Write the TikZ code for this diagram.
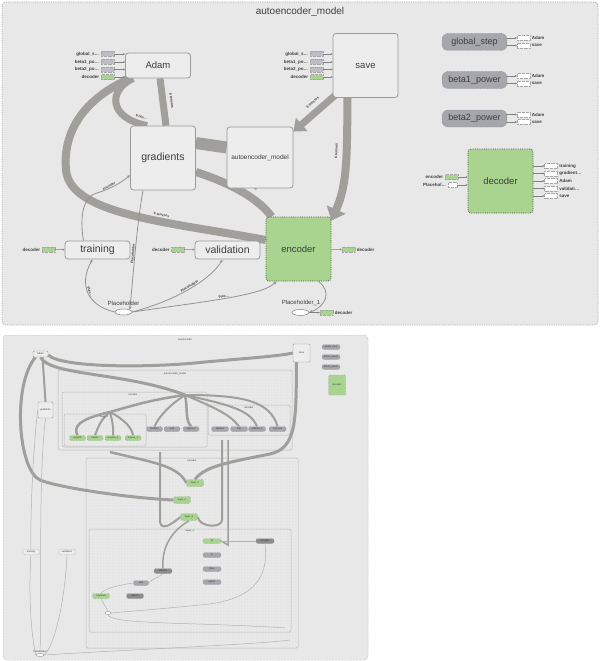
\documentclass[tikz,border=0pt]{standalone}
\usepackage{fontspec}
\setmainfont{Liberation Sans}
\usetikzlibrary{arrows.meta,shapes.geometric,positioning,backgrounds,patterns}

\definecolor{panelbg}{HTML}{E8E8E8}
\definecolor{panelline}{HTML}{A6A6A6}
\definecolor{opbg}{HTML}{EDEDED}
\definecolor{opline}{HTML}{9A9A9A}
\definecolor{txt}{HTML}{3E3E3E}
\definecolor{encgreen}{HTML}{A8D48F}
\definecolor{pillgray}{HTML}{A6A6AD}
\definecolor{darkpill}{HTML}{8C8C8C}
\definecolor{inboxc}{HTML}{BDBDC6}
\definecolor{flowc}{HTML}{A19F9C}
\definecolor{innerbg}{HTML}{E6E6E6}

\tikzstyle{panelframe}=[draw=panelline,densely dotted,fill=panelbg,rounded corners=4pt,line width=0.8pt]
\tikzstyle{boxframe}=[draw=panelline!80,fill=innerbg,rounded corners=1.5pt,line width=0.5pt,postaction={pattern=dots,pattern color=white}]
\tikzstyle{opgroup}=[draw=opline,fill=opbg,rounded corners=3pt,line width=0.8pt,text=txt,minimum width=65pt,minimum height=64pt,inner sep=0pt,font=\fontsize{9.5}{10}\selectfont]
\tikzstyle{opbar}=[opgroup,minimum height=18pt]
\tikzstyle{encgroup}=[opgroup,fill=encgreen,draw=black!65,densely dotted]
\tikzstyle{pillnode}=[draw=black!60,densely dotted,fill=pillgray,rounded corners=6pt,minimum width=65pt,minimum height=17pt,inner sep=0pt,text=txt,font=\fontsize{9}{9}\selectfont]
\tikzstyle{instub}=[draw=gray!70,densely dotted,fill=inboxc,minimum width=13pt,minimum height=5pt,inner sep=0pt,line width=0.3pt]
\tikzstyle{edgetag}=[font=\fontsize{4.5}{5}\selectfont\bfseries,text=txt,inner sep=0.5pt]
\tikzstyle{flowband}=[draw=flowc,line width=8pt]
\tikzstyle{thinwire}=[draw=gray!85,line width=0.8pt]
\tikzstyle{stubwire}=[draw=gray,line width=0.4pt,-{Stealth[length=2pt,width=2pt]}]
\tikzstyle{wtip}=[-{Stealth[length=3.5pt,width=3pt]}]
\tikzstyle{elab}=[font=\fontsize{3.5}{4}\selectfont\bfseries,text=txt,sloped,inner sep=0.5pt]
\tikzstyle{phnode}=[ellipse,draw=gray,fill=white,minimum width=17pt,minimum height=6pt,inner sep=0pt,line width=0.5pt]
% small versions for the expanded view
\tikzstyle{minigroup}=[draw=opline,fill=opbg,rounded corners=1pt,line width=0.4pt,text=txt,inner sep=0pt,font=\fontsize{2.5}{3}\selectfont]
\tikzstyle{minipill}=[minigroup,fill=pillgray,draw=black!50,densely dotted,rounded corners=2pt,minimum height=5pt]
\tikzstyle{minigreen}=[minipill,fill=encgreen]
\tikzstyle{minidark}=[minipill,fill=darkpill]
\tikzstyle{minitag}=[font=\fontsize{2.5}{3}\selectfont,text=txt,inner sep=0.3pt]
\tikzstyle{miniband}=[draw=flowc,line width=3pt]
\tikzstyle{miniwire}=[draw=gray!60,line width=0.5pt]

\begin{document}
\begin{tikzpicture}[x=1pt,y=-1pt]
    \useasboundingbox (0,0) rectangle (600,661);

    % ---- collapsed graph ----
    \node[text=txt,font=\fontsize{10}{10}\selectfont] (title) at (300,12) {autoencoder\_model};

    \node[opbar,minimum height=25pt] (adam) at (158,65.5) {Adam};
    \node[opgroup] (save) at (365.5,65.5) {save};
    \node[opgroup,font=\fontsize{10.5}{11}\selectfont] (gradients) at (163,158) {gradients};
    \node[opgroup,minimum width=66pt,minimum height=61pt,font=\fontsize{6.5}{7}\selectfont] (autoenc) at (260,157.5) {autoencoder\_model};
    \node[opbar,font=\fontsize{10.5}{11}\selectfont] (training) at (97.5,250) {training};
    \node[opbar,font=\fontsize{10.5}{11}\selectfont] (validation) at (227.5,250) {validation};
    \node[encgroup] (encoder) at (298.5,249) {encoder};
    \node[encgroup] (decoder) at (500.5,181) {decoder};

    \node[pillnode] (gstep) at (474.5,42) {global\_step};
    \node[pillnode] (beta1) at (474.5,80) {beta1\_power};
    \node[pillnode] (beta2) at (474.5,118.5) {beta2\_power};

    \node[phnode] (ph) at (123.5,312) {};
    \node[edgetag,font=\fontsize{6}{6}\selectfont] (phlab) at (123.5,303) {Placeholder};
    \node[phnode] (ph1) at (300.5,312.5) {};
    \node[edgetag,font=\fontsize{6}{6}\selectfont] (ph1lab) at (301,303) {Placeholder\_1};

    % inputs of Adam and save
    \foreach \lab/\yy/\col [count=\i] in {global\_s\ldots/54/inboxc,beta1\_po\ldots/62/inboxc,beta2\_po\ldots/69.5/inboxc,decoder/77/encgreen}{
        \node[instub,fill=\col] (ad\i) at (107.5,\yy) {};
        \node[edgetag,left=1pt of ad\i] (adl\i) {\lab};
        \draw[stubwire] (ad\i) -- (adam.west |- ad\i);
        \node[instub,fill=\col] (sv\i) at (316.5,\yy) {};
        \node[edgetag,left=1pt of sv\i] (svl\i) {\lab};
        \draw[stubwire] (sv\i) -- (save.west |- sv\i);
    }

    % outputs of the variables
    \foreach \var/\ya/\yb in {gstep/38/45.5,beta1/76/83.5,beta2/114.5/122}{
        \node[instub,fill=white] (\var a) at (523.5,\ya) {};
        \node[edgetag,right=1pt of \var a] (\var al) {Adam};
        \node[instub,fill=white] (\var b) at (523.5,\yb) {};
        \node[edgetag,right=1pt of \var b] (\var bl) {save};
        \draw[stubwire] (\var.east |- \var a) -- (\var a);
        \draw[stubwire] (\var.east |- \var b) -- (\var b);
    }

    % decoder inputs and outputs
    \node[instub,fill=encgreen] (din1) at (451.5,177) {};
    \node[edgetag,left=1pt of din1] (dinl1) {encoder};
    \node[instub,fill=white,minimum width=9pt] (din2) at (452.5,185) {};
    \node[edgetag,left=1pt of din2] (dinl2) {Placehol\ldots};
    \draw[stubwire] (din1) -- (decoder.west |- din1);
    \draw[stubwire] (din2) -- (decoder.west |- din2);
    \foreach \lab/\yy [count=\i] in {training/166,gradient\ldots/173.5,Adam/181,validati\ldots/188.5,save/196}{
        \node[instub,fill=white] (dout\i) at (551,\yy) {};
        \node[edgetag,right=1pt of dout\i] (doutl\i) {\lab};
        \draw[stubwire] (decoder.east |- dout\i) -- (dout\i);
    }

    % decoder inputs of training / validation, outputs of encoder / Placeholder_1
    \node[instub,fill=encgreen] (trin) at (48.5,249.5) {};
    \node[edgetag,left=1pt of trin] (trinl) {decoder};
    \draw[stubwire] (trin) -- (training);
    \node[instub,fill=encgreen] (vain) at (178,249.5) {};
    \node[edgetag,left=1pt of vain] (vainl) {decoder};
    \draw[stubwire] (vain) -- (validation);
    \node[instub,fill=encgreen] (enout) at (348.5,249.5) {};
    \node[edgetag,right=1pt of enout] (enoutl) {decoder};
    \draw[stubwire] (encoder) -- (enout);
    \node[instub,fill=encgreen] (phout) at (326.5,312.5) {};
    \node[edgetag,right=1pt of phout] (phoutl) {decoder};
    \draw[stubwire] (ph1) -- (phout);

    % ---- expanded graph ----
    \node[minitag] (btitle) at (185,339.5) {autoencoder};
    \node[minigroup,minimum width=15pt,minimum height=6pt] (badam) at (40.5,354) {Adam};
    \node[minigroup,minimum width=17pt,minimum height=18pt] (bsave) at (301.5,353) {save};
    \node[minipill,minimum width=18pt] (bgs) at (331,347) {global\_step};
    \node[minipill,minimum width=18pt] (bb1) at (331,357) {beta1\_power};
    \node[minipill,minimum width=18pt] (bb2) at (331,367) {beta2\_power};
    \node[minigroup,fill=encgreen,draw=black!50,densely dotted,minimum width=17pt,minimum height=20pt] (bdec) at (337,385) {decoder};
    \node[minigroup,minimum width=15pt,minimum height=16pt] (bgrad) at (45.5,410) {gradients};
    \node[minipill,fill=opbg,minimum width=17pt] (btrain) at (31,552) {training};
    \node[minipill,fill=opbg,minimum width=17pt] (bval) at (67,552) {validation};
    \node[ellipse,draw=gray,fill=white,minimum width=8pt,minimum height=3pt,inner sep=0pt,line width=0.3pt] (bph) at (40,655) {};
    \node[minitag] (bphl) at (40,651.5) {Placeholder};

    \node[minitag] (baelab) at (175,374) {autoencoder\_model};
    \node[minitag] (balab) at (133,395) {encoder};
    \node[minitag] (bblab) at (104,417) {layer\_1};
    \node[minitag] (bclab) at (249,408) {decoder};
    \foreach \xx/\lab [count=\i] in {77.5/weights,95/biases,113/weights\_1,133/biases\_1}{
        \node[minigreen,minimum width=16pt] (bw\i) at (\xx,438) {\lab};
    }
    \foreach \xx/\lab [count=\i] in {154.5/MatMul,172/add,191/Sigmoid}{
        \node[minipill,minimum width=16pt] (bg\i) at (\xx,429) {\lab};
    }
    \foreach \xx/\lab [count=\i] in {220/MatMul,239/add,257/MatMul\_1,277.5/Sigmoid}{
        \node[minipill,minimum width=17pt] (bc\i) at (\xx,429) {\lab};
    }

    \node[minitag] (benlab) at (192,461) {encoder};
    \node[minigreen,minimum width=17pt,minimum height=7pt] (be1) at (195,483) {layer\_1};
    \node[minigreen,minimum width=17pt,minimum height=7pt] (be2) at (182,500) {layer\_2};
    \node[minigreen,minimum width=17pt,minimum height=7pt] (be3) at (189,517) {layer\_3};
    \node[minitag] (bsublab) at (190,531) {layer\_1};
    \node[minidark,minimum width=18pt] (bs1) at (163,571) {MatMul};
    \node[minipill,minimum width=15pt] (bs2) at (141,583) {add};
    \node[minigreen,minimum width=17pt] (bs3) at (101,596) {Sigmoid};
    \node[minidark,minimum width=17pt] (bs4) at (135,596) {Mean};
    \node[minigreen,minimum width=18pt] (bs5) at (212,541) {W};
    \node[minipill,minimum width=18pt] (bs6) at (212,555) {b};
    \node[minipill,minimum width=18pt] (bs7) at (212,569) {Max};
    \node[minipill,minimum width=18pt] (bs8) at (212,582) {gather};
    \node[minidark,minimum width=18pt] (bs9) at (265,541) {Variable};
    \node[ellipse,draw=gray,fill=white,minimum width=6pt,minimum height=3pt,inner sep=0pt,line width=0.3pt] (bs10) at (108,613) {};

    \begin{scope}[on background layer]
        \draw[panelframe] (2,2) rectangle (598,325);
        \draw[panelframe,line width=0.5pt] (3,335) rectangle (368,660);
        \draw[boxframe] (58,370) rectangle (292,450);
        \draw[boxframe] (62,392) rectangle (207,447);
        \draw[boxframe] (64,414) rectangle (146,446);
        \draw[boxframe] (208,405) rectangle (290,435);
        \draw[boxframe] (86,458) rectangle (298,648);
        \draw[boxframe] (89,529) rectangle (291,632);

        % thick edges
        \draw[flowband] ([xshift=5]adam.south west) .. controls (92,95) and (62,125) .. (66,170)
            .. controls (70,215) and (170,222) .. ([yshift=9]encoder.west)
            node[elab,pos=0.62,above=1pt] {6 tensors};
        \draw[flowband,line width=7pt] ([xshift=8]adam.south west) .. controls (108,90) and (108,118) .. ([xshift=17]gradients.north west)
            node[elab,pos=0.93,above=2pt] {6 ten\ldots};
        \draw[flowband,line width=7pt] ([xshift=2]adam.south) -- ([xshift=3]gradients.north)
            node[elab,midway,above=3.5pt] {6 tensors};
        \draw[flowband,line width=12pt] ([yshift=15]gradients.east) -- ([yshift=10]autoenc.west);
        \draw[flowband] ([yshift=-14]gradients.east) .. controls (230,183) and (258,198) .. ([xshift=6]encoder.north west)
            node[elab,pos=0.55,above=4pt] {6 tensors};
        \draw[flowband,line width=7pt,-{Triangle[length=11pt,width=17pt]}] ([xshift=3,yshift=3]save.south west) -- ([yshift=-5]autoenc.north east)
            node[elab,pos=0.4,above=4pt] {6 tensors};
        \draw[flowband,-{Triangle[length=12pt,width=20pt]}] ([xshift=-18]save.south) .. controls (347,160) and (347,185) .. ([yshift=-4]encoder.north east)
            node[elab,pos=0.35,above=4.5pt] {6 tensors};

        % thin edges
        \draw[thinwire,wtip] ([xshift=-14]training.north) .. controls (79,215) and (84,196) .. (97,193)
            .. controls (110,189) and (121,183) .. ([yshift=-17]gradients.west)
            node[elab,pos=0.35,above] {encoder};
        \draw[thinwire,wtip] ([xshift=-20]gradients.south) .. controls (136,230) and (133,280) .. (ph.20)
            node[elab,pos=0.5,above] {Placeholder};
        \draw[thinwire,wtip] (ph.west) .. controls (88,306) and (78,285) .. ([xshift=-5]training.south)
            node[elab,pos=0.5,above] {Plac\ldots};
        \draw[thinwire,wtip] (ph.east) .. controls (178,300) and (212,278) .. ([xshift=-5]validation.south)
            node[elab,pos=0.5,above] {Placeholder};
        \draw[thinwire,wtip] (ph.east) .. controls (200,302) and (262,296) .. ([xshift=-22]encoder.south)
            node[elab,pos=0.5,above] {Plac\ldots};
        \draw[thinwire,wtip] ([xshift=20]encoder.south) .. controls (332,292) and (326,306) .. (ph1.east);

        % thick edges, expanded graph
        \draw[miniband] ([yshift=-1]badam.east) .. controls (62,368) and (150,368) .. (205,362)
            .. controls (250,358) and (280,356) .. (bsave.west);
        \draw[miniband] (badam.south) .. controls (50,376) and (125,372) .. (185,395);
        \draw[miniband,line width=2pt] ([xshift=2]badam.south) -- (bgrad.north);
        \draw[miniband] ([xshift=-5]badam.south) .. controls (12,385) and (18,470) .. (40,480)
            .. controls (60,488) and (130,498) .. (be2.west);
        \draw[miniband] ([xshift=-5]bsave.south) .. controls (296,420) and (297,448) .. (270,454)
            .. controls (230,462) and (205,466) .. (be1.north);
        \draw[miniband,line width=2.5pt] (185,395) .. controls (150,400) and (135,405) .. (110,412)
            .. controls (75,420) and (74,428) .. (bw1.north);
        \draw[miniband,line width=2.5pt] (185,395) .. controls (188,410) and (185,420) .. (bg3.north);
        \draw[miniband,line width=2pt] (185,395) .. controls (170,405) and (160,415) .. (bg1.north);
        \draw[miniband,line width=2pt] (185,395) .. controls (240,395) and (270,400) .. (bc4.north);
        \draw[miniband,line width=2pt] (185,395) .. controls (230,405) and (250,410) .. (bc3.north);
        \draw[miniband,line width=2pt] (185,395) .. controls (220,410) and (230,415) .. (bc2.north);
        \draw[miniband,line width=2pt] (110,412) .. controls (100,420) and (98,428) .. (bw2.north);
        \draw[miniband,line width=2pt] (110,412) .. controls (112,420) and (114,428) .. (bw3.north);
        \draw[miniband,line width=2pt] (110,412) .. controls (125,420) and (132,428) .. (bw4.north);
        \draw[miniband,line width=2.5pt] (110,452) .. controls (150,462) and (178,465) .. (be1.west);
        \draw[miniband,line width=2pt] (160,452) -- (160,520) .. controls (160,528) and (165,530) .. (be3.west);
        \draw[miniband,line width=2pt] (222,440) -- (222,520) .. controls (222,528) and (200,528) .. (be3.east);
        \draw[miniband,line width=1.5pt] (228,440) -- (228,545) -- (bs5.east);
        \draw[miniband,line width=1.5pt] (be3.south) .. controls (165,535) and (162,555) .. (bs1.north);

        % thin edges, expanded graph
        \draw[miniwire] (bgrad.south) .. controls (38,480) and (42,600) .. (bph.north);
        \draw[miniwire] (btrain.north) .. controls (30,500) and (35,430) .. (bgrad.west);
        \draw[miniwire] (btrain.south) .. controls (28,600) and (32,640) .. (bph.west);
        \draw[miniwire] (bval.south) .. controls (65,600) and (55,645) .. (bph.east);
        \draw[miniwire] (bph.east) .. controls (120,650) and (250,645) .. (290,640);
        \draw[miniwire] (bs1.south) .. controls (158,578) and (150,580) .. (bs2.east);
        \draw[miniwire] (bs2.west) .. controls (120,585) and (105,588) .. (bs3.north);
        \draw[miniwire] (bs3.south) .. controls (104,604) and (106,608) .. (bs10.north);
        \draw[miniwire] (bs10.south) .. controls (110,625) and (200,622) .. (285,628);
        \draw[miniwire] (bs5.east) -- (bs9.west);
        \draw[miniwire] (bs9.south) .. controls (268,570) and (262,600) .. (200,605) .. controls (150,610) and (120,612) .. (bs10.east);
    \end{scope}
\end{tikzpicture}
\end{document}
